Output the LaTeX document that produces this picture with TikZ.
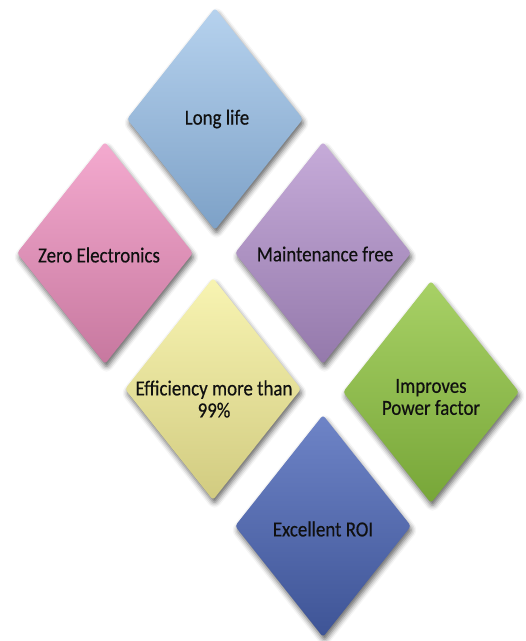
\documentclass[tikz,border=0pt]{standalone}
\usepackage{fontspec}
\setmainfont{Carlito}[FakeStretch=0.88,FakeBold=0.4]
\usetikzlibrary{shapes.geometric,shadows.blur}
\definecolor{blueT}{HTML}{B6D2EE}
\definecolor{blueB}{HTML}{7DA1C7}
\definecolor{pinkT}{HTML}{F4AACF}
\definecolor{pinkB}{HTML}{C7789F}
\definecolor{purpT}{HTML}{C6ABD9}
\definecolor{purpB}{HTML}{9479AB}
\definecolor{yellT}{HTML}{F8F4B2}
\definecolor{yellB}{HTML}{D1CB80}
\definecolor{greenT}{HTML}{A8D166}
\definecolor{greenB}{HTML}{77A638}
\definecolor{navyT}{HTML}{6E84C7}
\definecolor{navyB}{HTML}{3E5496}
\definecolor{txt}{HTML}{101010}
\tikzset{
  gem/.style n args={2}{shape=diamond, minimum width=176pt, minimum height=222pt,
    inner sep=0pt, rounded corners=3pt, top color=#1, bottom color=#2,
    blur shadow={shadow xshift=1.5pt, shadow yshift=-4pt, shadow blur radius=5pt, shadow opacity=60}},
  lbl/.style={font=\fontsize{21.5}{22}\selectfont, text=txt, align=center, inner sep=0pt}
}
\begin{document}
\begin{tikzpicture}[x=1pt,y=-1pt]
\useasboundingbox (0,0) rectangle (526,641);
\node[gem={blueT}{blueB}] (life) at (215,119) {};
\node[gem={pinkT}{pinkB}] (zero) at (105,253) {};
\node[gem={purpT}{purpB}] (maint) at (323,253) {};
\node[gem={yellT}{yellB}] (eff) at (213,389) {};
\node[gem={greenT}{greenB}] (power) at (431,392) {};
\node[gem={navyT}{navyB}] (roi) at (323,526) {};
\node[lbl] (lifet) at (217,119) {Long life};
\node[lbl] (zerot) at (99,255) {Zero Electronics};
\node[lbl] (maintt) at (325,254) {Maintenance free};
\node[lbl] (efft) at (214,399) {Efficiency more than\\99\%};
\node[lbl] (powert) at (431,397) {Improves\\Power factor};
\node[lbl] (roit) at (323,529) {Excellent ROI};
\end{tikzpicture}
\end{document}
